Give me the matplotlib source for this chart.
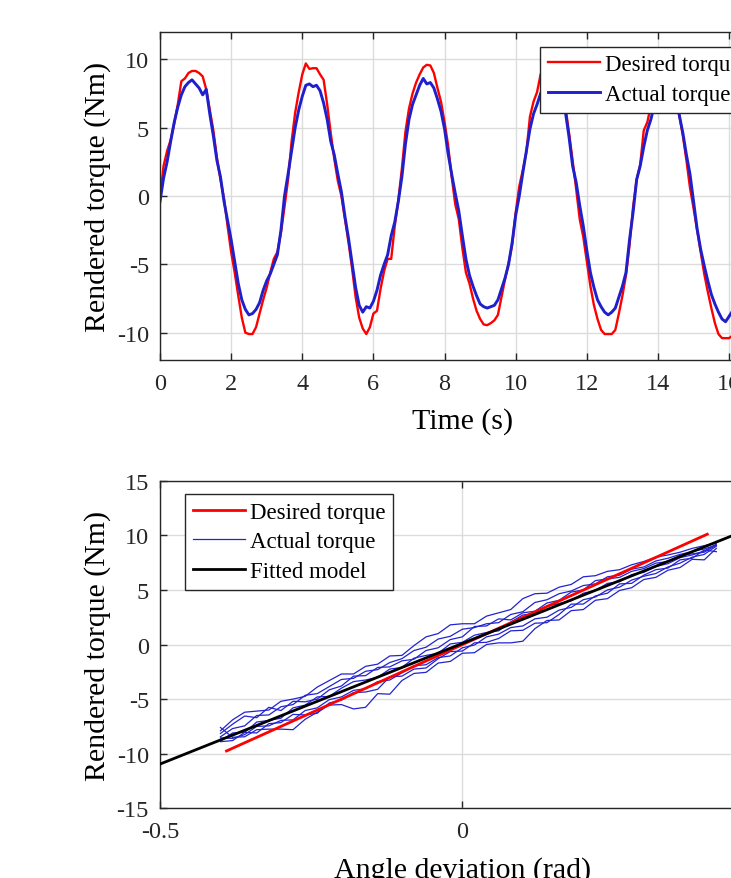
import matplotlib.pyplot as plt
import numpy as np

# Top panel, read on a 0.1 s grid
time_s = np.round(np.arange(0, 171) * 0.1, 1)

desired_torque = [
    -0.2, 2.2, 3.3, 4.1, 5.3, 6.7, 8.4, 8.6, 9.0, 9.15,
    9.15, 9.0, 8.75, 7.8, 6.3, 4.8, 2.8, 1.2, -0.2, -2.2,
    -4.1, -5.6, -7.3, -8.9, -10.0, -10.1, -10.1, -9.6, -8.6, -7.6,
    -6.7, -5.6, -4.6, -4.1, -2.7, -0.8, 1.2, 4.0, 6.1, 7.6,
    8.9, 9.7, 9.3, 9.35, 9.35, 8.9, 8.5, 6.7, 4.6, 2.7,
    1.1, 0.0, -1.7, -3.4, -5.3, -7.4, -8.9, -9.7, -10.1, -9.6,
    -8.6, -8.4, -6.8, -5.5, -4.6, -4.6, -2.2, -0.3, 2.0, 4.7,
    6.4, 7.5, 8.3, 8.9, 9.4, 9.6, 9.55, 9.0, 7.9, 6.9,
    5.4, 3.7, 1.4, -0.6, -1.7, -3.8, -5.6, -6.4, -7.5, -8.4,
    -9.0, -9.4, -9.45, -9.3, -9.1, -8.7, -7.4, -6.1, -4.9, -3.6,
    -1.2, 0.7, 1.9, 3.2, 5.8, 6.9, 7.6, 8.9, 9.5, 9.6,
    9.3, 8.8, 8.2, 7.4, 6.5, 4.6, 2.6, 0.5, -1.7, -3.0,
    -4.8, -6.6, -8.0, -9.0, -9.8, -10.1, -10.1, -10.1, -9.8, -8.6,
    -7.3, -5.8, -3.6, -0.8, 1.2, 2.3, 4.8, 5.4, 6.6, 7.8,
    8.8, 9.4, 9.6, 9.4, 8.8, 7.6, 5.9, 4.4, 2.6, 0.6,
    -0.9, -2.5, -4.1, -5.7, -7.0, -8.2, -9.3, -10.1, -10.4, -10.4,
    -10.4, -10.2, -9.5, -8.4, -7.0, -5.5, -3.8, -2.0, 0.0, 2.0,
    4.0,
]

actual_torque = [
    -0.4, 1.3, 2.5, 4.0, 5.4, 6.5, 7.4, 8.0, 8.3, 8.5,
    8.2, 7.9, 7.4, 7.8, 6.0, 4.4, 2.6, 1.4, -0.4, -1.8,
    -3.2, -4.8, -6.4, -7.6, -8.3, -8.7, -8.6, -8.3, -7.8, -6.9,
    -6.2, -5.7, -5.0, -4.3, -2.5, 0.0, 1.6, 3.3, 5.0, 6.3,
    7.3, 8.1, 8.2, 8.0, 8.1, 7.7, 6.8, 5.6, 4.0, 3.0,
    1.6, 0.3, -1.5, -3.1, -4.9, -6.7, -8.0, -8.5, -8.1, -8.2,
    -7.7, -6.9, -5.8, -5.0, -4.3, -2.9, -1.9, -0.4, 1.4, 3.8,
    5.6, 6.7, 7.4, 8.1, 8.6, 8.2, 8.3, 7.9, 7.1, 6.2,
    4.9, 3.1, 1.6, 0.2, -1.1, -2.9, -4.6, -5.8, -6.6, -7.3,
    -7.9, -8.1, -8.2, -8.1, -8.0, -7.6, -6.8, -6.0, -5.0, -3.4,
    -1.4, 0.0, 1.7, 3.3, 4.9, 6.0, 6.7, 7.5, 8.1, 8.3,
    8.2, 7.9, 7.6, 6.9, 6.1, 4.3, 2.2, 1.0, -0.7, -2.2,
    -4.0, -5.6, -6.7, -7.6, -8.1, -8.5, -8.7, -8.5, -8.2, -7.4,
    -6.6, -5.6, -3.2, -1.2, 1.2, 2.2, 3.6, 4.8, 5.6, 6.7,
    7.6, 8.1, 8.3, 8.1, 7.6, 6.9, 5.9, 4.6, 3.0, 1.6,
    -0.4, -2.4, -3.9, -5.1, -6.2, -7.2, -7.9, -8.5, -9.0, -9.2,
    -8.8, -8.4, -7.8, -7.0, -6.0, -4.8, -3.3, -1.8, -0.2, 1.5,
    3.0,
]

# Bottom panel: actual torque traces read at fixed angle steps
angle_rad = np.round(np.arange(-0.40, 0.4201, 0.02), 2)

trace_a = [-7.9, -6.9, -6.2, -6.1, -6.0, -5.2, -5.0, -4.75, -3.9, -3.3,
           -2.7, -2.7, -2.0, -1.8, -1.05, -1.0, -0.1, 0.7, 1.0, 1.8,
           1.9, 1.9, 2.6, 2.9, 3.2, 4.2, 4.65, 4.7, 5.25, 5.5,
           6.2, 6.3, 6.7, 6.85, 7.3, 7.6, 8.0, 8.2, 8.45, 8.8,
           9.05, 9.3]
trace_b = [-8.45, -7.7, -7.45, -6.5, -6.45, -5.7, -5.5, -4.65, -4.5, -3.85,
           -3.2, -3.1, -2.45, -2.3, -1.65, -1.3, -0.55, -0.25, 0.5, 0.75,
           1.4, 1.55, 1.9, 2.0, 2.75, 3.0, 3.85, 4.1, 4.65, 4.9,
           5.4, 5.55, 6.2, 6.35, 6.9, 7.1, 7.65, 7.9, 8.25, 8.5,
           8.75, 9.1]
trace_c = [-8.85, -8.1, -8.05, -7.1, -6.95, -6.75, -5.8, -5.55, -4.8, -4.75,
           -4.0, -3.4, -3.25, -3.0, -2.25, -2.1, -1.25, -1.0, -0.8, 0.05,
           0.2, 0.85, 1.1, 1.25, 2.05, 2.7, 2.85, 3.5, 3.75, 4.0,
           4.7, 4.95, 5.6, 5.75, 6.4, 6.6, 7.15, 7.4, 7.95, 8.2,
           8.55, 9.2]
trace_d = [-8.55, -8.6, -8.25, -7.5, -7.45, -6.95, -6.9, -6.05, -5.8, -5.05,
           -4.8, -4.2, -4.05, -3.4, -3.25, -2.6, -1.95, -1.85, -1.2, -1.05,
           -0.3, -0.05, 0.7, 0.95, 1.55, 1.7, 2.35, 2.5, 3.15, 3.4,
           4.1, 4.35, 5.0, 5.25, 5.9, 6.25, 6.5, 7.1, 7.45, 8.0,
           8.25, 9.0]
trace_e = [-7.6, -8.5, -8.45, -7.8, -7.75, -7.75, -7.8, -6.85, -6.2, -5.55,
           -5.5, -5.9, -5.75, -4.5, -4.55, -3.3, -2.65, -2.55, -1.7, -1.55,
           -0.8, -0.75, 0.0, 0.15, 0.15, 0.3, 1.45, 2.2, 2.25, 3.1,
           3.2, 4.05, 4.2, 4.95, 5.2, 5.95, 6.15, 6.8, 7.05, 7.8,
           7.75, 8.8]
trace_f = [-8.15, -7.3, -6.55, -6.7, -5.75, -6.05, -5.2, -5.25, -5.0, -4.15,
           -3.8, -2.9, -2.85, -2.1, -2.05, -1.5, -1.35, -0.55, -0.3, 0.45,
           0.7, 1.65, 1.7, 2.35, 2.25, 2.9, 3.05, 3.8, 4.05, 4.8,
           5.0, 5.85, 6.0, 6.15, 6.7, 6.95, 7.45, 7.6, 8.15, 8.3,
           8.45, 9.1]
trace_g = [-8.9, -8.8, -8.05, -8.1, -7.25, -7.15, -6.4, -6.45, -6.3, -5.35,
           -5.1, -4.4, -4.35, -4.1, -2.95, -2.9, -2.25, -2.15, -1.3, -0.65,
           -0.6, 0.15, 0.2, 0.55, 1.25, 1.3, 1.95, 2.0, 2.75, 3.7,
           3.7, 4.45, 4.7, 5.55, 5.6, 6.35, 6.85, 7.0, 7.75, 7.9,
           8.65, 8.5]

desired_angle = [-0.39, 0.405]
desired_line = [-9.75, 10.1]
fit_angle = [-0.5, 0.5]
fit_torque = [-10.95, 11.15]

plt.rcParams['font.family'] = ['Liberation Serif', 'DejaVu Serif']
plt.rcParams['axes.unicode_minus'] = False

W, H = 731, 879
fig = plt.figure(figsize=(W / 100, H / 100), dpi=100)

def px_axes(left, top, right, bottom):
    return fig.add_axes([left / W, 1 - bottom / H, (right - left) / W, (bottom - top) / H])

def style(ax):
    ax.grid(True, color='#dcdcdc', linewidth=1.0)
    ax.set_axisbelow(True)
    ax.tick_params(direction='in', top=True, right=True, labelsize=17.5,
                   length=5, width=1, colors='#262626')
    ax.tick_params(axis='x', pad=9)
    ax.tick_params(axis='y', pad=8)
    for s in ax.spines.values():
        s.set_color('#262626')
        s.set_linewidth(1.0)

def add_legend(ax, anchor, handles=None, labels=None):
    args = (handles, labels) if handles is not None else ()
    leg = ax.legend(*args, loc='upper left', bbox_to_anchor=anchor, borderaxespad=0,
                    fontsize=16.5, frameon=True, fancybox=False, edgecolor='#262626',
                    framealpha=1, handlelength=2.3, handletextpad=0.2,
                    borderpad=0.33, labelspacing=0.38)
    leg.get_frame().set_linewidth(1.0)
    return leg

# top: torque over time
ax1 = px_axes(160, 33, 764.7, 361)
ax1.plot(time_s, desired_torque, color='#ff0000', lw=1.7, label='Desired torque')
ax1.plot(time_s, actual_torque, color='#1f1fcc', lw=2.1, label='Actual torque')
ax1.set_xlim(0, 17)
ax1.set_ylim(-12, 12)
ax1.set_xticks(np.arange(0, 17, 2))
ax1.set_yticks([-10, -5, 0, 5, 10])
style(ax1)
ax1.set_xlabel('Time (s)', fontsize=21.5, labelpad=10)
ax1.set_ylabel('Rendered torque (Nm)', fontsize=21.5, labelpad=4)
add_legend(ax1, (0.6284, 0.9552))

# bottom: torque vs angle deviation
ax2 = px_axes(160, 481.7, 764.7, 809.3)
ax2.plot(desired_angle, desired_line, color='#ff0000', lw=2.0, label='Desired torque', zorder=3)
blue_lines = []
for tr in [trace_a, trace_b, trace_c, trace_d, trace_e, trace_f, trace_g]:
    ln, = ax2.plot(angle_rad, tr, color='#2323d0', lw=0.9, zorder=2)
    blue_lines.append(ln)
ax2.plot(fit_angle, fit_torque, color='black', lw=2.0, label='Fitted model', zorder=4)
ax2.set_xlim(-0.5, 0.5)
ax2.set_ylim(-15, 15)
ax2.set_xticks([-0.5, 0, 0.5])
ax2.set_xticklabels(['-0.5', '0', '0.5'])
ax2.set_yticks([-15, -10, -5, 0, 5, 10, 15])
style(ax2)
ax2.set_xlabel('Angle deviation (rad)', fontsize=21.5, labelpad=10)
ax2.set_ylabel('Rendered torque (Nm)', fontsize=21.5, labelpad=4)
h, l = ax2.get_legend_handles_labels()
add_legend(ax2, (0.0413, 0.9594),
           [h[0], blue_lines[0], h[1]],
           ['Desired torque', 'Actual torque', 'Fitted model'])

fig.savefig('out.png', dpi=100)
